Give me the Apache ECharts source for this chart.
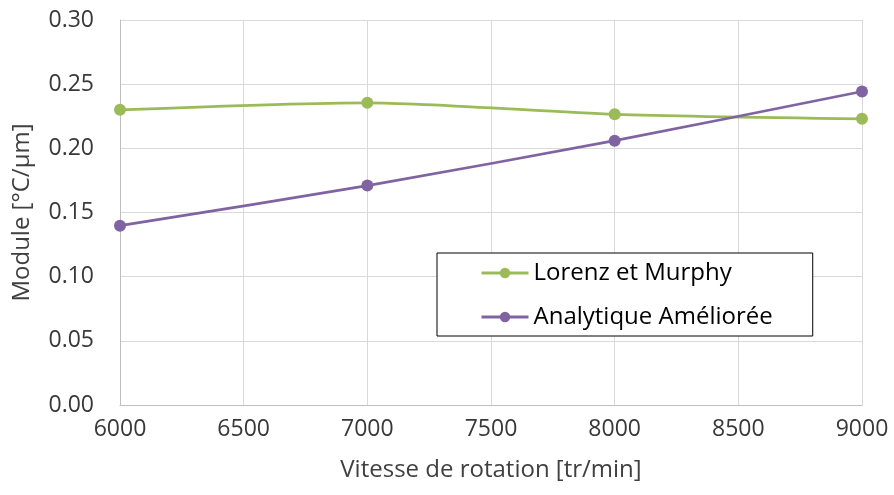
<!DOCTYPE html>
<html><head><meta charset="utf-8">
<script src="https://cdn.jsdelivr.net/npm/echarts@6/dist/echarts.min.js"></script>
<style>html,body{margin:0;padding:0;background:#fff}#c{width:894px;height:495px}</style>
</head><body><div id="c"></div>
<script>
const speeds = [6000, 7000, 8000, 9000];
const lorenz = [0.230, 0.2355, 0.2265, 0.223];
const analytique = [0.1397, 0.171, 0.206, 0.2443];
const seriesNames = ['Lorenz et Murphy', 'Analytique Améliorée'];
const xTitle = 'Vitesse de rotation [tr/min]';
const yTitle = 'Module [°C/μm]';

const font = 'Open Sans, Liberation Sans, sans-serif';
const chart = echarts.init(document.getElementById('c'));
const mk = (name, vals, color) => ({
  name, type: 'line', smooth: 0.25,
  data: speeds.map((s, i) => [s, vals[i]]),
  symbol: 'circle', symbolSize: 12,
  lineStyle: {color, width: 2.75}, itemStyle: {color},
  emphasis: {disabled: true}
});
chart.setOption({
  animation: false,
  grid: {left: 120, right: 32, top: 20, bottom: 90, containLabel: false},
  xAxis: {
    type: 'value', min: 6000, max: 9000, interval: 500,
    name: xTitle, nameLocation: 'middle', nameGap: 53,
    nameTextStyle: {fontFamily: font, fontSize: 24, color: '#404040'},
    axisLine: {show: true, lineStyle: {color: '#bfbfbf'}},
    axisTick: {show: false},
    axisLabel: {fontFamily: font, fontSize: 23, color: '#383838', margin: 13,
      formatter: v => String(v)},
    splitLine: {show: true, lineStyle: {color: '#d9d9d9'}}
  },
  yAxis: {
    type: 'value', min: 0, max: 0.3, interval: 0.05,
    name: yTitle, nameLocation: 'middle', nameGap: 86, nameRotate: 90,
    nameTextStyle: {fontFamily: font, fontSize: 24, color: '#404040'},
    axisLine: {show: true, lineStyle: {color: '#bfbfbf'}},
    axisTick: {show: false},
    axisLabel: {fontFamily: font, fontSize: 23, color: '#383838', margin: 26,
      formatter: v => v.toFixed(2)},
    splitLine: {show: true, lineStyle: {color: '#d9d9d9'}}
  },
  legend: {
    orient: 'vertical', left: 437, top: 253,
    backgroundColor: '#fff', borderColor: '#000', borderWidth: 1,
    padding: [8, 40, 7, 43],
    itemWidth: 47, itemHeight: 13, itemGap: 20,
    lineStyle: {width: 3},
    textStyle: {fontFamily: font, fontSize: 24, color: '#000'},
    data: seriesNames
  },
  series: [mk(seriesNames[0], lorenz, '#9bbb59'), mk(seriesNames[1], analytique, '#8064a2')]
});
</script></body></html>
